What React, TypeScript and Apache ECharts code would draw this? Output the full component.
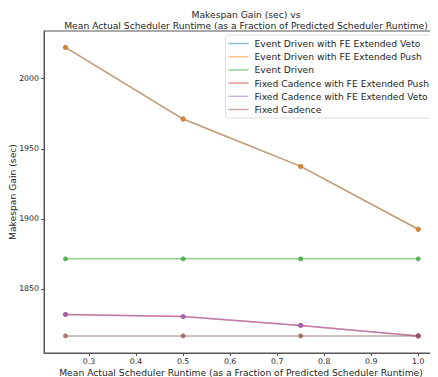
import React, { useEffect, useRef } from "react";
import * as echarts from "echarts";

const xValues = [0.25, 0.5, 0.75, 1.0];
const seriesNames = [
  "Event Driven with FE Extended Veto",
  "Event Driven with FE Extended Push",
  "Event Driven",
  "Fixed Cadence with FE Extended Push",
  "Fixed Cadence with FE Extended Veto",
  "Fixed Cadence",
];
const eventVeto = [2022.3, 1971.2, 1937.4, 1892.6];
const eventPush = [2022.3, 1971.2, 1937.4, 1892.6];
const eventDriven = [1871.5, 1871.5, 1871.5, 1871.5];
const fixedPush = [1831.8, 1830.3, 1824.0, 1816.5];
const fixedVeto = [1831.8, 1830.3, 1824.0, 1816.5];
const fixedCadence = [1816.5, 1816.5, 1816.5, 1816.5];
const seriesValues = [eventVeto, eventPush, eventDriven, fixedPush, fixedVeto, fixedCadence];
const colors = ["#1f77b4", "#ff7f0e", "#2ca02c", "#d62728", "#9467bd", "#8c564b"];
const xTicks = [0.3, 0.4, 0.5, 0.6, 0.7, 0.8, 0.9, 1.0];
const yTicks = [1850, 1900, 1950, 2000];
const xAxisTitle = "Mean Actual Scheduler Runtime (as a Fraction of Predicted Scheduler Runtime)";
const yAxisTitle = "Makespan Gain (sec)";

const FONT = "DejaVu Sans";
const TXT = "#262626";
const TITLE_SIZE = 9.2;

export default function App() {
  const ref = useRef<HTMLDivElement>(null);
  useEffect(() => {
    if (!ref.current) return;
    const chart = echarts.init(ref.current, undefined, { renderer: "svg" });
    chart.setOption({
      animation: false,
      color: colors,
      title: {
        text: "Makespan Gain (sec) vs\n" + xAxisTitle,
        left: 241,
        textAlign: "center",
        top: 4,
        textStyle: { fontFamily: FONT, fontSize: TITLE_SIZE, fontWeight: "normal", color: TXT, lineHeight: 11 },
      },
      graphic: [
        {
          type: "text",
          x: 241,
          y: 372,
          style: {
            text: xAxisTitle,
            fontFamily: FONT,
            fontSize: TITLE_SIZE,
            fill: TXT,
            align: "center",
            verticalAlign: "middle",
          },
        },
        {
          type: "text",
          x: 12,
          y: 192,
          rotation: Math.PI / 2,
          style: {
            text: yAxisTitle,
            fontFamily: FONT,
            fontSize: TITLE_SIZE,
            fill: TXT,
            align: "center",
            verticalAlign: "middle",
          },
        },
      ],
      grid: {
        left: 44,
        right: 1,
        top: 31,
        bottom: 24,
        show: true,
        borderColor: "#555",
        borderWidth: 1,
        outerBoundsMode: "none",
        containLabel: false,
      },
      legend: {
        orient: "vertical",
        right: 3,
        top: 35,
        icon: "rect",
        itemWidth: 20,
        itemHeight: 1.5,
        itemGap: 4.2,
        padding: [4, 6, 4, 3],
        backgroundColor: "#fff",
        borderColor: "#ddd",
        borderWidth: 1,
        borderRadius: 3,
        data: seriesNames.map((n, i) => ({ name: n, itemStyle: { color: colors[i], opacity: 0.5 } })),
        textStyle: { fontFamily: FONT, fontSize: TITLE_SIZE, color: TXT, padding: [0, 0, 0, 1] },
      },
      xAxis: {
        type: "value",
        min: 0.2043,
        max: 1.0398,
        axisLine: { show: true, lineStyle: { color: "#555" } },
        axisTick: { show: true, length: 3, customValues: xTicks, lineStyle: { color: "#555" } },
        axisLabel: {
          customValues: xTicks,
          fontFamily: FONT,
          fontSize: 7.8,
          color: TXT,
          margin: 4,
          formatter: (v: number) => v.toFixed(1),
        },
        splitLine: { show: false },
      },
      yAxis: {
        type: "value",
        min: 1804.3,
        max: 2034,
        axisLine: { show: true, lineStyle: { color: "#555" } },
        axisTick: { show: true, length: 3, customValues: yTicks, lineStyle: { color: "#555" } },
        axisLabel: {
          customValues: yTicks,
          fontFamily: FONT,
          fontSize: 7.8,
          color: TXT,
          margin: 5,
          formatter: (v: number) => String(v),
        },
        splitLine: { show: false },
      },
      series: seriesNames.map((name, i) => ({
        name,
        type: "line",
        data: xValues.map((x, j) => [x, seriesValues[i][j]]),
        symbol: "circle",
        symbolSize: 5,
        showSymbol: true,
        lineStyle: { width: 1.5, opacity: 0.5, color: colors[i] },
        itemStyle: { color: colors[i], opacity: 0.75 },
        z: 2 + i,
      })),
    });
    return () => chart.dispose();
  }, []);
  return <div ref={ref} style={{ width: 438, height: 377, marginLeft: -8, marginTop: -8 }} />;
}
